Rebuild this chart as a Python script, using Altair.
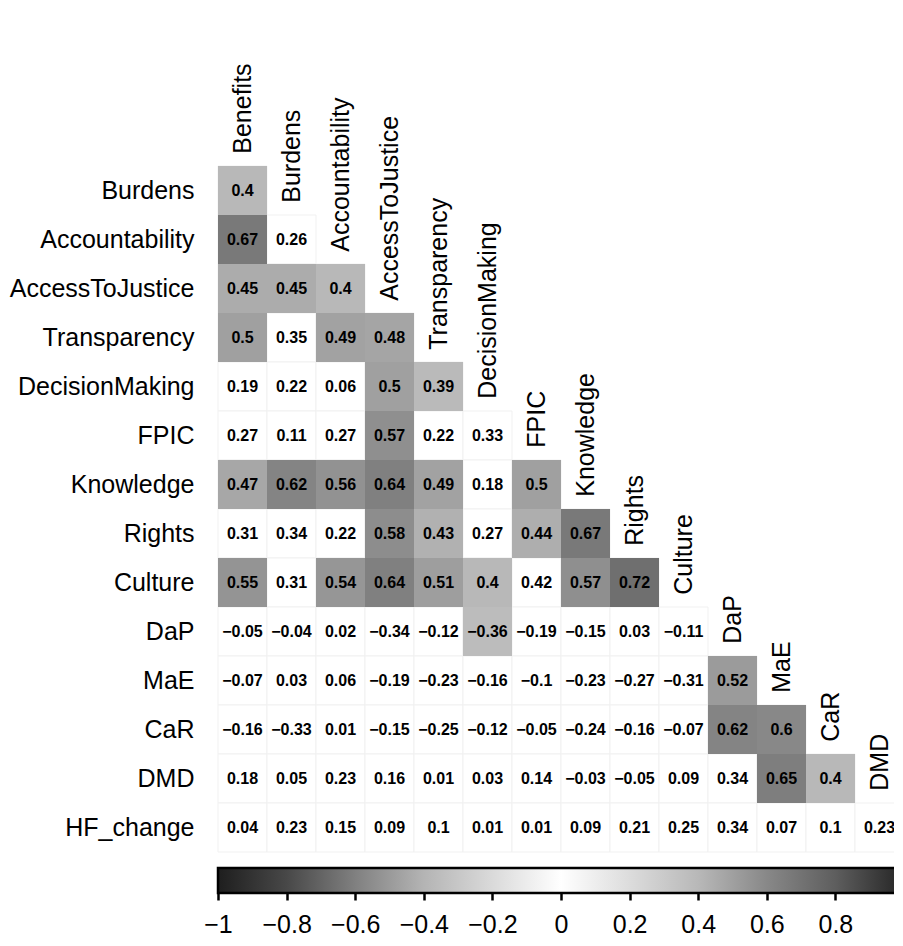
import altair as alt
import pandas as pd

FONT = "Liberation Sans, Arial, Helvetica, sans-serif"

# Column (x) and row (y) variables of the lower-triangle correlation matrix
cols = ["Benefits", "Burdens", "Accountability", "AccessToJustice", "Transparency",
        "DecisionMaking", "FPIC", "Knowledge", "Rights", "Culture", "DaP", "MaE",
        "CaR", "DMD"]
rows = ["Burdens", "Accountability", "AccessToJustice", "Transparency",
        "DecisionMaking", "FPIC", "Knowledge", "Rights", "Culture", "DaP", "MaE",
        "CaR", "DMD", "HF_change"]

# Correlation coefficients, one list per row (columns in order of `cols`)
r_burdens = [0.4]
r_accountability = [0.67, 0.26]
r_access = [0.45, 0.45, 0.4]
r_transparency = [0.5, 0.35, 0.49, 0.48]
r_decision = [0.19, 0.22, 0.06, 0.5, 0.39]
r_fpic = [0.27, 0.11, 0.27, 0.57, 0.22, 0.33]
r_knowledge = [0.47, 0.62, 0.56, 0.64, 0.49, 0.18, 0.5]
r_rights = [0.31, 0.34, 0.22, 0.58, 0.43, 0.27, 0.44, 0.67]
r_culture = [0.55, 0.31, 0.54, 0.64, 0.51, 0.4, 0.42, 0.57, 0.72]
r_dap = [-0.05, -0.04, 0.02, -0.34, -0.12, -0.36, -0.19, -0.15, 0.03, -0.11]
r_mae = [-0.07, 0.03, 0.06, -0.19, -0.23, -0.16, -0.1, -0.23, -0.27, -0.31, 0.52]
r_car = [-0.16, -0.33, 0.01, -0.15, -0.25, -0.12, -0.05, -0.24, -0.16, -0.07, 0.62, 0.6]
r_dmd = [0.18, 0.05, 0.23, 0.16, 0.01, 0.03, 0.14, -0.03, -0.05, 0.09, 0.34, 0.65, 0.4]
r_hf = [0.04, 0.23, 0.15, 0.09, 0.1, 0.01, 0.01, 0.09, 0.21, 0.25, 0.34, 0.07, 0.1, 0.23]

# Significance flags (1 = shaded cell)
s_burdens = [1]
s_accountability = [1, 0]
s_access = [1, 1, 1]
s_transparency = [1, 0, 1, 1]
s_decision = [0, 0, 0, 1, 1]
s_fpic = [0, 0, 0, 1, 0, 0]
s_knowledge = [1, 1, 1, 1, 1, 0, 1]
s_rights = [0, 0, 0, 1, 1, 0, 1, 1]
s_culture = [1, 0, 1, 1, 1, 1, 0, 1, 1]
s_dap = [0, 0, 0, 0, 0, 1, 0, 0, 0, 0]
s_mae = [0, 0, 0, 0, 0, 0, 0, 0, 0, 0, 1]
s_car = [0, 0, 0, 0, 0, 0, 0, 0, 0, 0, 1, 1]
s_dmd = [0, 0, 0, 0, 0, 0, 0, 0, 0, 0, 0, 1, 1]
s_hf = [0] * 14

# Colour scale (grey, symmetric) and colour-bar tick values
color_domain = [-1, -0.8, -0.6, -0.4, -0.2, 0, 0.2, 0.4, 0.6, 0.8, 1]
color_range = ["#1e1e1e", "#484848", "#808080", "#b4b4b4", "#dadada", "#ffffff",
               "#dcdcdc", "#b8b8b8", "#888888", "#5e5e5e", "#242424"]
cb_ticks = [-1, -0.8, -0.6, -0.4, -0.2, 0, 0.2, 0.4, 0.6, 0.8, 1]

r_rows = [r_burdens, r_accountability, r_access, r_transparency, r_decision, r_fpic,
          r_knowledge, r_rights, r_culture, r_dap, r_mae, r_car, r_dmd, r_hf]
s_rows = [s_burdens, s_accountability, s_access, s_transparency, s_decision, s_fpic,
          s_knowledge, s_rights, s_culture, s_dap, s_mae, s_car, s_dmd, s_hf]

records = []
for rname, rv, sv in zip(rows, r_rows, s_rows):
    for j, (v, s) in enumerate(zip(rv, sv)):
        records.append({"row": rname, "col": cols[j], "r": v, "sig": s})
df = pd.DataFrame(records)

ydomain = [" "] + rows
lab_df = pd.DataFrame({"col": cols, "yrow": ydomain[:len(cols)]})

xscale = alt.Scale(domain=cols, paddingInner=0, paddingOuter=0)
yscale = alt.Scale(domain=ydomain, paddingInner=0, paddingOuter=0)
yaxis = alt.Axis(title=None, ticks=False, tickSize=0, domain=False, labelFontSize=25,
                 labelFont=FONT, labelColor="black", labelPadding=24, labelLimit=0)

X = alt.X("col:N", scale=xscale, axis=None)
Y = alt.Y("row:N", scale=yscale, axis=yaxis)

cells = alt.Chart(df).mark_rect(fill="white", stroke="#f1f1f1", strokeWidth=1).encode(x=X, y=Y)

shaded = alt.Chart(df).transform_filter("datum.sig == 1").mark_rect().encode(
    x=X, y=Y,
    color=alt.Color("r:Q", scale=alt.Scale(domain=color_domain, range=color_range,
                                           interpolate="rgb"), legend=None),
)

values = alt.Chart(df).mark_text(font=FONT, fontSize=16, fontWeight="bold", color="black").encode(
    x=X, y=Y, text=alt.Text("r:Q", format="~g")
)

col_labels = alt.Chart(lab_df).mark_text(
    angle=270, align="left", baseline="middle", fontSize=25, font=FONT, color="black"
).encode(
    x=alt.X("col:N", scale=xscale, axis=None),
    y=alt.Y("yrow:N", scale=yscale, axis=yaxis, bandPosition=0.75),
    text="col:N",
)

heat = alt.layer(cells, shaded, values, col_labels).properties(width=686, height=735)

grad = alt.LinearGradient(
    gradient="linear",
    stops=[alt.GradientStop(color=c, offset=(d - color_domain[0]) / (color_domain[-1] - color_domain[0]))
           for d, c in zip(color_domain, color_range)],
    x1=0, x2=1, y1=0, y2=0,
)
cb_df = pd.DataFrame({"lo": [cb_ticks[0]], "hi": [cb_ticks[-1]]})
colorbar = alt.Chart(cb_df).mark_rect(fill=grad, stroke="black", strokeWidth=2.5).encode(
    x=alt.X("lo:Q", scale=alt.Scale(domain=[cb_ticks[0], cb_ticks[-1]], nice=False, zero=False),
            axis=alt.Axis(values=cb_ticks, format="~g", title=None, domain=False, grid=False,
                          tickSize=7, tickWidth=2.5, tickColor="black", labelFontSize=25,
                          labelFont=FONT, labelColor="black", labelPadding=12, labelFlush=False)),
    x2="hi:Q",
).properties(width=686, height=25)

chart = alt.vconcat(heat, colorbar, spacing=13).properties(
    padding={"left": 1, "top": 55, "right": -17, "bottom": 0},
    background="white",
).configure_view(stroke=None)

chart.save("out.html", embed_options={"renderer": "svg", "actions": False})
